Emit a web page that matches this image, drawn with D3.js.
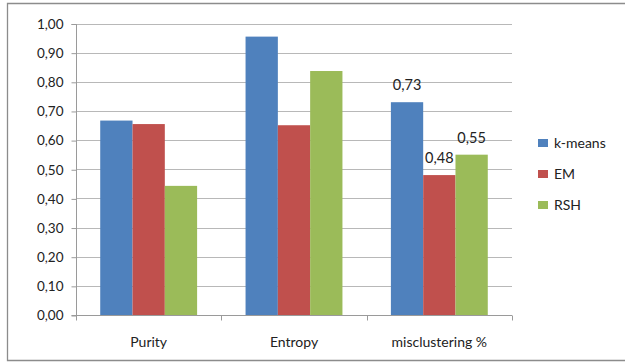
<!DOCTYPE html>
<html>
<head>
<meta charset="utf-8">
<script src="https://cdn.jsdelivr.net/npm/d3@7"></script>
<style>
  html, body { margin: 0; padding: 0; background: #fff; }
  svg { display: block; }
  text { font-family: Lato, "Open Sans", sans-serif; fill: #222; }
</style>
</head>
<body>
<script>
// Clustering quality measures per method
const categories = ["Purity", "Entropy", "misclustering %"];
const seriesNames = ["k-means", "EM", "RSH"];
const kmeans = [0.667, 0.955, 0.73];
const em = [0.655, 0.651, 0.48];
const rsh = [0.443, 0.837, 0.55];
const yTicks = [0, 0.1, 0.2, 0.3, 0.4, 0.5, 0.6, 0.7, 0.8, 0.9, 1.0];
// Values printed above bars: [category index, series index, text]
const valueLabels = [[2, 0, "0,73"], [2, 1, "0,48"], [2, 2, "0,55"]];
const colors = ["#4F81BD", "#C0504D", "#9BBB59"];

const series = [kmeans, em, rsh];
const W = 625, H = 362;
const plot = { left: 76, right: 512, top: 23.5, bottom: 315 };

const svg = d3.select("body").append("svg").attr("width", W).attr("height", H);

// Outer chart frame (right edge runs off the canvas)
svg.append("path")
  .attr("d", `M${W + 2},3.5 H7.5 V360.5 H${W + 2}`)
  .attr("fill", "none").attr("stroke", "#8c8c8c").attr("stroke-width", 1.3);

const x0 = d3.scaleBand().domain(categories).range([plot.left, plot.right]).paddingInner(0).paddingOuter(0);
const x1 = d3.scaleBand().domain(seriesNames).range([0, x0.bandwidth()]).paddingInner(0).paddingOuter(0.75);
const y = d3.scaleLinear().domain([0, 1]).range([plot.bottom, plot.top]);

const fmt = v => d3.format(".2f")(v).replace(".", ",");

// Horizontal gridlines
svg.append("g").selectAll("line").data(yTicks.filter(t => t > 0)).join("line")
  .attr("x1", plot.left).attr("x2", plot.right)
  .attr("y1", d => Math.round(y(d)) + 0.5).attr("y2", d => Math.round(y(d)) + 0.5)
  .attr("stroke", "#b8b8b8").attr("stroke-width", 1);

// Y axis
const yAxis = d3.axisLeft(y).tickValues(yTicks).tickFormat(fmt).tickSize(5).tickPadding(8);
const gy = svg.append("g").attr("transform", `translate(${plot.left + 0.5},0.5)`).call(yAxis);
gy.select(".domain").attr("stroke", "#9a9a9a").attr("d", `M-5,${Math.round(y(0))} H0 V${Math.round(y(1))} H-5`);
gy.selectAll(".tick line").attr("stroke", "#9a9a9a");
gy.selectAll(".tick text").attr("font-size", 13.5).attr("fill", "#222").style("font-family", "Lato, sans-serif");

// Bars
const groups = svg.append("g").selectAll("g").data(categories).join("g")
  .attr("transform", d => `translate(${x0(d)},0)`);
groups.selectAll("rect")
  .data((c, ci) => seriesNames.map((s, si) => ({ s, si, v: series[si][ci] })))
  .join("rect")
  .attr("x", d => x1(d.s))
  .attr("width", x1.bandwidth())
  .attr("y", d => y(d.v))
  .attr("height", d => y(0) - y(d.v))
  .attr("fill", d => colors[d.si]);

// X axis line and category separators
const xAxis = d3.axisBottom(x0).tickSize(0).tickPadding(0);
const gx = svg.append("g").attr("transform", `translate(0,${Math.round(y(0)) + 0.5})`).call(xAxis);
gx.select(".domain").attr("stroke", "#9a9a9a").attr("d", `M${plot.left},0 H${plot.right}`);
gx.selectAll(".tick text").attr("dy", 0).attr("y", 31).attr("font-size", 14).attr("fill", "#222")
  .style("font-family", "Lato, sans-serif");
svg.append("g").selectAll("line").data(d3.range(categories.length + 1)).join("line")
  .attr("x1", i => Math.round(plot.left + i * x0.bandwidth()) + 0.5)
  .attr("x2", i => Math.round(plot.left + i * x0.bandwidth()) + 0.5)
  .attr("y1", Math.round(y(0)) + 0.5).attr("y2", Math.round(y(0)) + 5.5)
  .attr("stroke", "#9a9a9a");

// Value labels over the misclustering bars
svg.append("g").selectAll("text").data(valueLabels).join("text")
  .attr("x", d => x0(categories[d[0]]) + x1(seriesNames[d[1]]) + x1.bandwidth() / 2)
  .attr("y", d => y(series[d[1]][d[0]]) - 12)
  .attr("text-anchor", "middle").attr("font-size", 14.5)
  .text(d => d[2]);

// Legend
const legend = svg.append("g").attr("transform", "translate(538,143)");
const li = legend.selectAll("g").data(seriesNames).join("g")
  .attr("transform", (d, i) => `translate(0,${i * 31})`);
li.append("rect").attr("x", 0).attr("y", -4).attr("width", 10).attr("height", 8)
  .attr("fill", (d, i) => colors[i]);
li.append("text").attr("x", 16).attr("y", 5).attr("font-size", 14).text(d => d);
</script>
</body>
</html>
